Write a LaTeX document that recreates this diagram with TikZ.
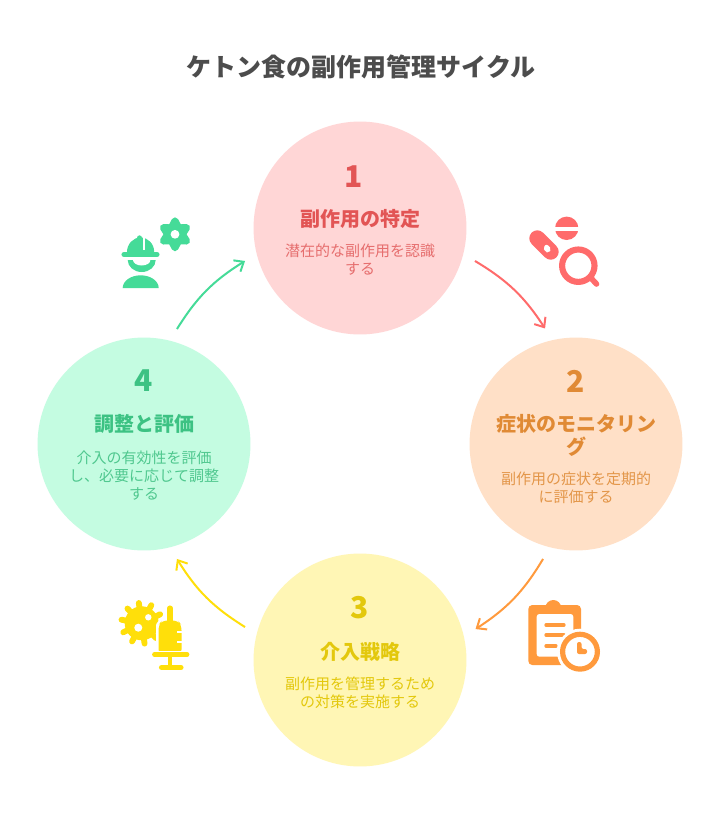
\documentclass[tikz,border=0pt]{standalone}
\usepackage{fontspec}
\setmainfont{Noto Sans CJK JP}
\usetikzlibrary{arrows.meta}
\definecolor{redA}{HTML}{FFD6D6}\definecolor{redB}{HTML}{E25555}\definecolor{redC}{HTML}{FF6B6B}
\definecolor{orgA}{HTML}{FFE0C7}\definecolor{orgB}{HTML}{E08A35}\definecolor{orgC}{HTML}{FF9A3D}
\definecolor{yelA}{HTML}{FFF6B5}\definecolor{yelB}{HTML}{E3C80C}\definecolor{yelC}{HTML}{FFDF0A}
\definecolor{grnA}{HTML}{C4FCE1}\definecolor{grnB}{HTML}{3CC283}\definecolor{grnC}{HTML}{45DB98}
\tikzset{
  x=0.75pt,y=-0.75pt,
  stage/.style={circle,minimum size=159.7pt,inner sep=0pt,outer sep=9.85pt},
  numtxt/.style={font=\bfseries\fontsize{22.5pt}{24pt}\selectfont},
  headtxt/.style={font=\bfseries\fontsize{15pt}{17.25pt}\selectfont,align=center},
  desctxt/.style={font=\fontsize{11.25pt}{13.5pt}\selectfont,align=center},
  link/.style={line width=1.5pt,-{Straight Barb[length=6pt,width=10pt,line width=1.5pt]},bend left=13},
}
\begin{document}
\begin{tikzpicture}
\useasboundingbox (0,0) rectangle (720,828);
\fill[white] (0,0) rectangle (720,828);
\node[text=black!70,font=\bfseries\fontsize{18.75pt}{22pt}\selectfont] (title) at (361,67) {ケトン食の副作用管理サイクル};
% circles
\node[stage,fill=redA] (c1) at (360,228) {};
\node[stage,fill=orgA] (c2) at (576,444) {};
\node[stage,fill=yelA] (c3) at (360,660) {};
\node[stage,fill=grnA] (c4) at (144,444) {};
% connectors
\draw[link,draw=redC] (c1.-16) to (c2.105.4);
\draw[link,draw=orgC] (c2.-106) to (c3.15.4);
\draw[link,draw=yelC] (c3.164) to (c4.-74.4);
\draw[link,draw=grnC] (c4.74) to (c1.196);
% texts
\node[numtxt,text=redB] (n1) at (354,177) {1};
\node[headtxt,text=redB] (h1) at (360,219) {副作用の特定};
\node[desctxt,text=redB!85!white] (d1) at (360,260) {潜在的な副作用を認識\\する};
\node[numtxt,text=orgB] (n2) at (576,381) {2};
\node[headtxt,text=orgB] (h2) at (576,435) {症状のモニタリン\\グ};
\node[desctxt,text=orgB!90!white] (d2) at (576,488) {副作用の症状を定期的\\に評価する};
\node[numtxt,text=yelB] (n3) at (360,608) {3};
\node[headtxt,text=yelB] (h3) at (360,652) {介入戦略};
\node[desctxt,text=yelB] (d3) at (360,693) {副作用を管理するため\\の対策を実施する};
\node[numtxt,text=grnB] (n4) at (144,381) {4};
\node[headtxt,text=grnB] (h4) at (144,424) {調整と評価};
\node[desctxt,text=grnB!90!white] (d4) at (144,476) {介入の有効性を評価\\し、必要に応じて調整\\する};
% icon: pill + magnifier
\draw[redC,line width=12pt,line cap=round] (537.3,238.3) -- (550.7,251.7);
\fill[white,rounded corners=1.5pt] (543,247.5) -- (546.5,244) -- (551.5,249) -- (548.5,253) -- (545.5,252) -- cycle;
\fill[redC] (566.7,228.3) circle (11.7);
\fill[white] (553,226.7) rectangle (580,230.7);
\draw[redC,line width=4.6pt] (578.3,265.7) circle (16.2);
\draw[redC,line width=4.2pt,line cap=round] (590,277) -- (596.5,284);
% icon: worker + gear
\fill[grnC] (127,252) arc[start angle=180,end angle=360,x radius=13.6,y radius=14.5] -- cycle;
\draw[grnC,line width=4pt,line cap=round] (139.5,238) -- (139.5,245);
\fill[white] (142.7,237) rectangle (145,250);
\draw[grnC,line width=3.8pt,line cap=round] (124,254.5) -- (157,254.5);
\fill[grnC] (127.7,260) arc[start angle=180,end angle=0,x radius=14,y radius=12] -- cycle;
\fill[white] (133,260) arc[start angle=180,end angle=0,x radius=8.7,y radius=5.5] -- cycle;
\fill[grnC] (122.7,288) arc[start angle=180,end angle=360,x radius=18,y radius=12.7] -- cycle;
\fill[grnC,draw=grnC,line width=5.2pt,line join=round]
  (175,220.8) -- (178.75,227.8) -- (186.7,227.55) -- (182.5,234.3) -- (186.7,241.05) -- (178.75,240.8)
  -- (175,247.8) -- (171.25,240.8) -- (163.3,241.05) -- (167.5,234.3) -- (163.3,227.55) -- (171.25,227.8) -- cycle;
\fill[white] (175,234.3) circle (4.4);
% icon: virus + syringe
\fill[yelC] (141.7,623.3) circle (17);
\foreach \a in {10,46,...,350}{
  \draw[yelC,line width=4.4pt,line cap=round] (141.7,623.3) -- ++(\a:20.5);
}
\fill[white] (138.3,627.7) circle (4);
\fill[white] (148.3,617.3) circle (3.2);
\draw[white,line width=7pt,line cap=round] (170,608) -- (170,625);
\fill[white,draw=white,line width=3.6pt,line join=round] (158.5,655) -- (158.5,625) -- (162,620.5) -- (178,620.5) -- (181.5,625) -- (181.5,655) -- cycle;
\draw[yelC,line width=3.8pt,line cap=round] (170,608) -- (170,625);
\fill[yelC,rounded corners=4pt] (158.5,655) -- (158.5,625) -- (162,620.5) -- (178,620.5) -- (181.5,625) -- (181.5,655) -- cycle;
\fill[white] (177,630.5) rectangle (183,633); \fill[white] (177,640.5) rectangle (183,643);
\draw[white,line width=5.5pt,line cap=round] (153,654.5) -- (188,654.5);
\draw[yelC,line width=3.6pt,line cap=round] (154.5,654.5) -- (187,654.5);
\draw[yelC,line width=3.4pt] (170,656) -- (170,667);
\draw[yelC,line width=3.8pt,line cap=round] (161.5,667.5) -- (181,667.5);
% icon: clipboard + clock
\fill[orgC,rounded corners=3pt] (528.3,605) rectangle (581,665);
\fill[orgC] (553.3,608) circle (8);
\fill[white,rounded corners=2pt] (536.7,614) rectangle (573.3,656.7);
\draw[orgC,line width=2.5pt,line cap=round] (546,625) -- (564,625);
\draw[orgC,line width=2.5pt,line cap=round] (546,635) -- (564,635);
\draw[orgC,line width=2.5pt,line cap=round] (546,646) -- (556,646);
\fill[white] (580,651.7) circle (23);
\draw[orgC,line width=3.9pt] (580,651.7) circle (17.4);
\fill[orgC,rounded corners=1.5pt] (577,642) -- (581.5,642) -- (581.5,649) -- (587,649) -- (587,654) -- (577,654) -- cycle;
\end{tikzpicture}
\end{document}
